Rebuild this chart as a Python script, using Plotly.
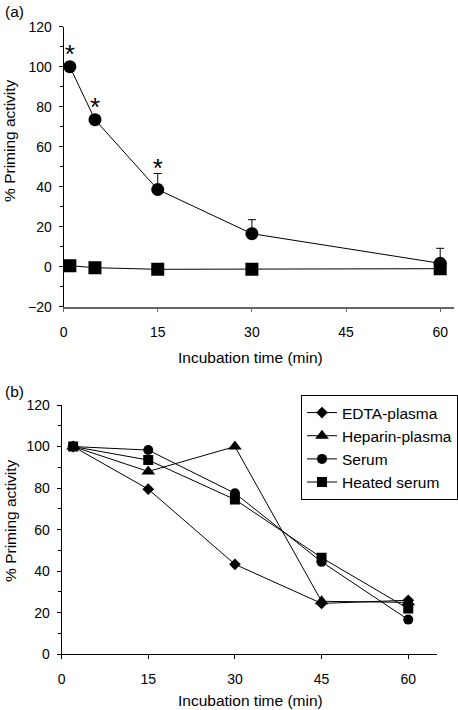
import plotly.graph_objects as go

# ---- data panel (a)
a_time = [1, 5, 15, 30, 60]
a_serum = [100, 73.5, 38.6, 16.5, 1.7]
a_serum_err = [0, 0, 8, 7, 7.5]
a_heated = [0.5, -0.5, -1.3, -1.3, -1.0]
a_sig = [True, True, True, False, False]

# ---- data panel (b)
b_time = [2, 15, 30, 45, 60]
b_edta = [100, 79.5, 43.3, 24.5, 26]
b_heparin = [100, 88, 100, 25.5, 25]
b_serum = [100, 98.3, 77.5, 44.5, 16.7]
b_heated = [100, 93.5, 74.5, 46.5, 22]
b_names = ["EDTA-plasma", "Heparin-plasma", "Serum", "Heated serum"]

FONT = "Liberation Sans, Arial, sans-serif"
W, H = 458, 710

def px_x(p):
    return p / W

def px_y(p):
    return 1 - p / H

fig = go.Figure()

# panel (a)
fig.add_trace(go.Scatter(
    x=a_time, y=a_serum, mode="lines+markers", showlegend=False,
    line=dict(color="black", width=1),
    marker=dict(symbol="circle", size=13, color="black"),
    error_y=dict(type="data", symmetric=False, array=a_serum_err,
                 arrayminus=[0] * len(a_serum_err), color="black",
                 thickness=1, width=4),
    xaxis="x", yaxis="y"))
fig.add_trace(go.Scatter(
    x=a_time, y=a_heated, mode="lines+markers", showlegend=False,
    line=dict(color="black", width=1),
    marker=dict(symbol="square", size=13, color="black"),
    xaxis="x", yaxis="y"))

# asterisks above significant points
star_x = [t for t, s in zip(a_time, a_sig) if s]
star_y = [max(v + e, v + 3.5) + 1.5 for v, e, s in zip(a_serum, a_serum_err, a_sig) if s]
fig.add_trace(go.Scatter(
    x=star_x, y=star_y, mode="text", text=["*"] * len(star_x),
    textposition="middle center", showlegend=False,
    textfont=dict(family=FONT, size=26, color="black"),
    xaxis="x", yaxis="y"))

# panel (b)
b_series = [b_edta, b_heparin, b_serum, b_heated]
b_symbols = ["diamond", "triangle-up", "circle", "square"]
b_sizes = [9, 12, 10, 10]
for name, vals, sym, sz in zip(b_names, b_series, b_symbols, b_sizes):
    fig.add_trace(go.Scatter(
        x=b_time, y=vals, mode="lines+markers", name=name,
        line=dict(color="black", width=1),
        marker=dict(symbol=sym, size=sz, color="black"),
        xaxis="x2", yaxis="y2"))

tickfont = dict(family=FONT, size=14, color="black")
TFS = 15.5

dom_ax = [px_x(64), px_x(457)]
dom_ay = [px_y(306.7), px_y(26.7)]
dom_bx = [px_x(62), px_x(440)]
dom_by = [px_y(654.3), px_y(405)]

common = dict(showgrid=False, zeroline=False, automargin=False)

fig.update_layout(
    width=W, height=H,
    margin=dict(l=0, r=0, t=0, b=0),
    paper_bgcolor="white", plot_bgcolor="white",
    font=dict(family=FONT, size=14, color="black"),
    # panel a
    xaxis=dict(domain=dom_ax, anchor="y", range=[0, 62.2],
               tickvals=[0, 15, 30, 45, 60], ticks="outside", ticklen=4,
               tickcolor="#666", showline=True, linecolor="#666", linewidth=1.5,
               tickfont=tickfont, ticklabelstandoff=8, **common),
    yaxis=dict(domain=dom_ay, anchor="x", range=[-20, 120],
               tickvals=[-20, 0, 20, 40, 60, 80, 100, 120], ticktext=["\u221220", "0", "20", "40", "60", "80", "100", "120"],
               ticks="outside", ticklen=4, tickcolor="black",
               minor=dict(tickvals=[-10, 10, 30, 50, 70, 90, 110], ticks="outside", ticklen=3, tickcolor="black"),
               showline=True, linecolor="black", linewidth=1,
               tickfont=tickfont, ticklabelstandoff=4, **common),
    xaxis3=dict(overlaying="x", anchor="y", range=[0, 62.2],
                tickvals=[0, 15, 30, 45, 60], ticks="inside", ticklen=4, tickcolor="#666",
                showticklabels=False, showline=False, **common),
    yaxis3=dict(overlaying="y", anchor="x", range=[-20, 120],
                tickvals=[-20, 0, 20, 40, 60, 80, 100, 120], ticks="inside", ticklen=3, tickcolor="black",
                minor=dict(tickvals=[-10, 10, 30, 50, 70, 90, 110], ticks="inside", ticklen=3, tickcolor="black"),
                showticklabels=False, showline=False, **common),
    # panel b
    xaxis2=dict(domain=dom_bx, anchor="y2", range=[0, 65],
                tickvals=[0, 15, 30, 45, 60], ticks="outside", ticklen=4,
                tickcolor="black", showline=True, linecolor="black", linewidth=1,
                tickfont=tickfont, ticklabelstandoff=8, **common),
    yaxis2=dict(domain=dom_by, anchor="x2", range=[0, 120],
                tickvals=[0, 20, 40, 60, 80, 100, 120], ticks="outside", ticklen=4, tickcolor="black",
                minor=dict(tickvals=[10, 30, 50, 70, 90, 110], ticks="outside", ticklen=3, tickcolor="black"),
                showline=True, linecolor="black", linewidth=1,
                tickfont=tickfont, ticklabelstandoff=4, **common),
    xaxis4=dict(overlaying="x2", anchor="y2", range=[0, 65],
                tickvals=[0, 15, 30, 45, 60], ticks="inside", ticklen=4, tickcolor="black",
                showticklabels=False, showline=False, **common),
    yaxis4=dict(overlaying="y2", anchor="x2", range=[0, 120],
                tickvals=[0, 20, 40, 60, 80, 100, 120], ticks="inside", ticklen=3, tickcolor="black",
                minor=dict(tickvals=[10, 30, 50, 70, 90, 110], ticks="inside", ticklen=3, tickcolor="black"),
                showticklabels=False, showline=False, **common),
    legend=dict(x=px_x(303), y=px_y(395), xanchor="left", yanchor="top",
                bordercolor="black", borderwidth=1, bgcolor="white",
                font=dict(family=FONT, size=TFS, color="black"),
                tracegroupgap=0, itemwidth=30),
)

ann = [
    dict(text="(a)", x=px_x(3), y=px_y(12), xanchor="left", yanchor="middle"),
    dict(text="(b)", x=px_x(3), y=px_y(391), xanchor="left", yanchor="middle"),
    dict(text="% Priming activity", x=px_x(10), y=px_y(140), textangle=-90,
         xanchor="center", yanchor="middle"),
    dict(text="% Priming activity", x=px_x(10), y=px_y(520), textangle=-90,
         xanchor="center", yanchor="middle"),
    dict(text="Incubation time (min)", x=px_x(252), y=px_y(357), xanchor="center", yanchor="middle"),
    dict(text="Incubation time (min)", x=px_x(252), y=px_y(700), xanchor="center", yanchor="middle"),
]
for a in ann:
    a.update(xref="paper", yref="paper", showarrow=False,
             font=dict(family=FONT, size=TFS, color="black"))
    fig.add_annotation(**a)

fig.write_html("out.html", config={"displayModeBar": False},
               post_script="document.body.style.margin='0';document.body.style.overflow='hidden';")
